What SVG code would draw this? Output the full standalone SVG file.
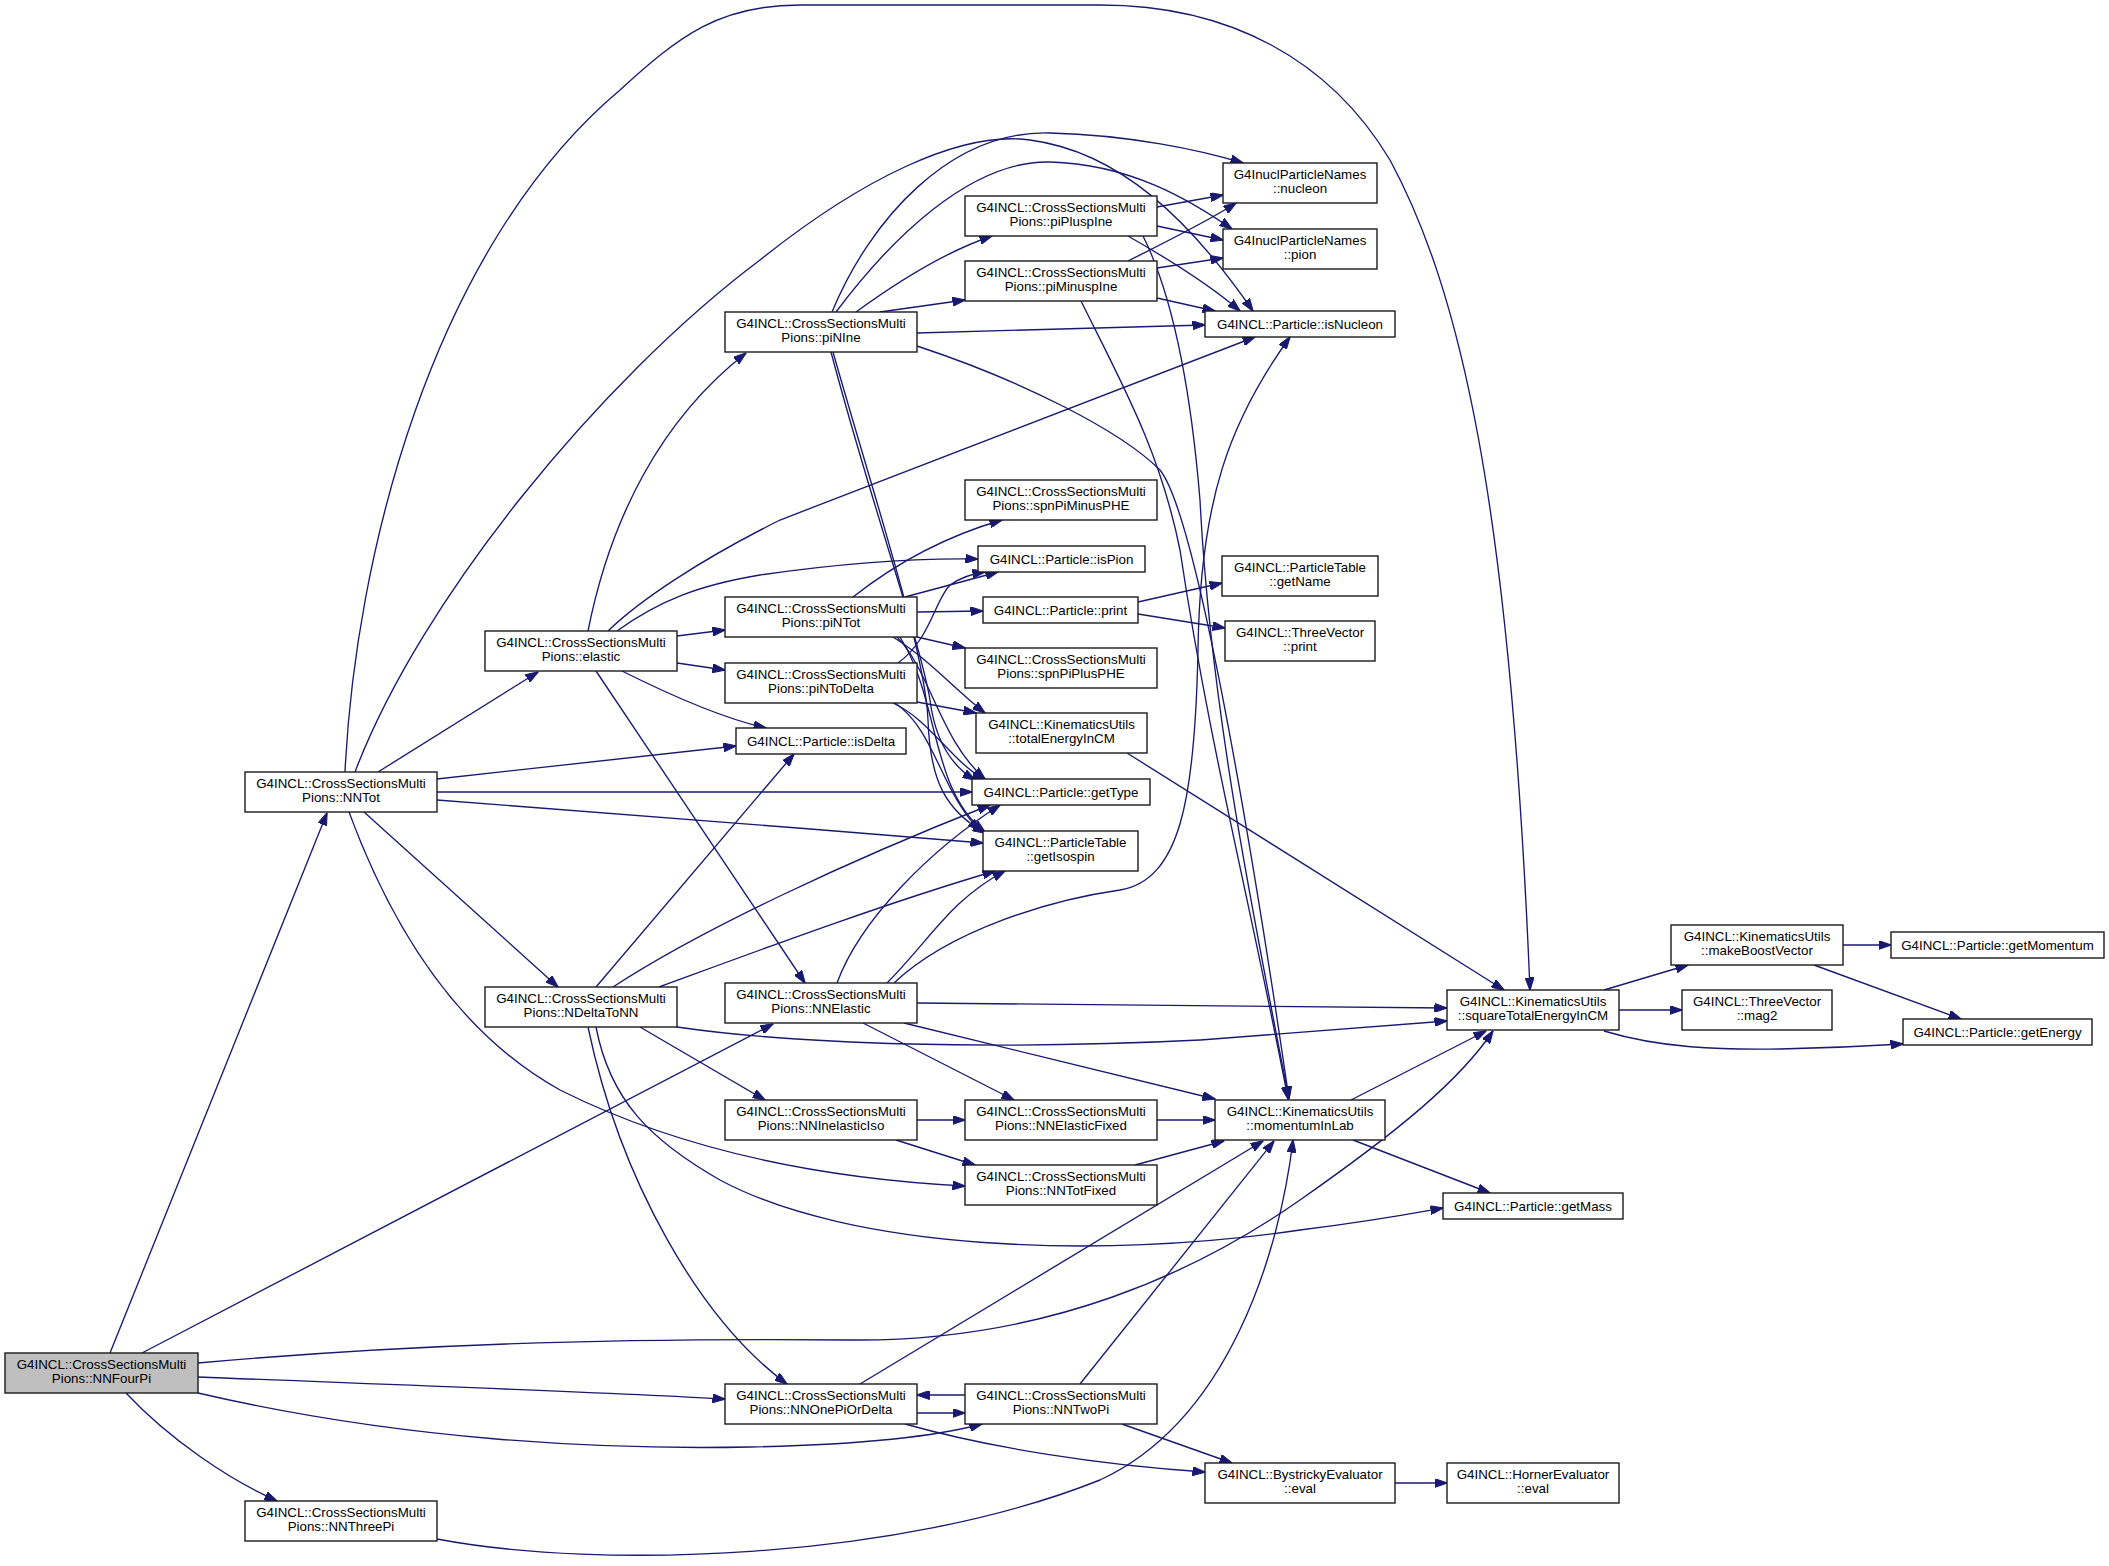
<svg xmlns="http://www.w3.org/2000/svg" width="2109" height="1566" viewBox="0 0 2109 1566">
<style>
.n rect{fill:#ffffff;stroke:#1a1a1a;stroke-width:1.4}
.n.root rect{fill:#bfbfbf}
.n text{font-family:"Liberation Sans",Arial,Helvetica,sans-serif;font-size:13.33px;fill:#000;text-anchor:middle}
#edges path{fill:none;stroke:#191970;stroke-width:1.35;marker-end:url(#ah)}
</style>
<defs>
<marker id="ah" viewBox="0 0 13 9" refX="12.5" refY="4.5" markerWidth="13" markerHeight="9" markerUnits="userSpaceOnUse" orient="auto">
<path d="M0,0 L13,4.5 L0,9 z" fill="#191970" stroke="#191970" stroke-width="1"/>
</marker>
</defs>
<rect width="2109" height="1566" fill="#ffffff"/>
<g id="edges">
<path d="M110,1353 L327,813"/>
<path d="M142,1353 L773,1024"/>
<path d="M198,1363 C400,1345 600,1338 850,1340 C1050,1342 1200,1270 1300,1200 C1400,1130 1460,1080 1493,1031"/>
<path d="M198,1377 C400,1385 600,1392 725,1399"/>
<path d="M198,1393 C400,1440 600,1450 750,1447 C850,1445 930,1438 982,1424"/>
<path d="M126,1393 C170,1440 230,1480 277,1501"/>
<path d="M437,1539 C600,1570 900,1560 1100,1480 C1230,1420 1280,1250 1293,1140"/>
<path d="M345,772 C355,560 430,250 620,90 C680,35 720,5 800,5 L1100,5 C1230,5 1330,60 1390,160 C1460,290 1510,500 1530,990"/>
<path d="M355,772 C420,600 600,380 760,260 C860,180 960,130 1030,140 C1120,152 1190,220 1253,311"/>
<path d="M378,772 L538,672"/>
<path d="M437,779 L736,746"/>
<path d="M437,792 L972,792"/>
<path d="M437,800 C600,812 800,828 983,843"/>
<path d="M364,812 L558,987"/>
<path d="M349,812 C400,950 470,1040 560,1090 C700,1160 850,1180 965,1186"/>
<path d="M588,631 C610,520 660,420 746,353"/>
<path d="M608,631 C640,600 700,560 780,520 L1255,337"/>
<path d="M617,631 C660,600 700,585 760,575 C850,562 920,558 978,559"/>
<path d="M677,636 L725,630"/>
<path d="M677,663 L725,670"/>
<path d="M622,671 C680,700 730,720 766,728"/>
<path d="M596,671 L805,983"/>
<path d="M596,987 L794,754"/>
<path d="M613,987 C700,930 850,860 990,805"/>
<path d="M659,987 C760,950 880,905 995,871"/>
<path d="M677,1027 C800,1045 1000,1050 1200,1040 C1300,1033 1400,1025 1447,1021"/>
<path d="M640,1027 L765,1100"/>
<path d="M588,1027 C620,1180 700,1320 787,1384"/>
<path d="M596,1027 C610,1100 650,1140 720,1180 C850,1250 1100,1260 1300,1230 C1380,1220 1420,1212 1443,1208"/>
<path d="M837,983 C860,920 930,850 1000,805"/>
<path d="M887,983 C930,940 950,900 1005,871"/>
<path d="M894,983 C950,930 1050,900 1120,890 C1180,880 1195,800 1198,650 C1200,500 1230,420 1290,337"/>
<path d="M917,1003 L1447,1008"/>
<path d="M863,1023 L1014,1100"/>
<path d="M904,1023 L1215,1099"/>
<path d="M917,1120 L965,1120"/>
<path d="M896,1140 L975,1165"/>
<path d="M860,1384 L1263,1141"/>
<path d="M917,1413 L965,1413"/>
<path d="M905,1424 C990,1448 1100,1465 1205,1472"/>
<path d="M965,1395 L917,1395"/>
<path d="M1080,1384 L1274,1141"/>
<path d="M1122,1424 L1232,1463"/>
<path d="M1395,1483 L1447,1483"/>
<path d="M1157,1120 L1215,1120"/>
<path d="M1135,1165 L1224,1141"/>
<path d="M1351,1100 L1486,1031"/>
<path d="M1353,1140 L1490,1193"/>
<path d="M1127,753 L1504,990"/>
<path d="M1604,990 L1688,965"/>
<path d="M1619,1010 L1682,1010"/>
<path d="M1604,1031 C1660,1048 1720,1050 1780,1049 C1830,1048 1870,1046 1903,1044"/>
<path d="M1843,945 L1891,945"/>
<path d="M1814,965 L1961,1019"/>
<path d="M1138,602 L1222,583"/>
<path d="M1138,614 L1225,628"/>
<path d="M853,597 C900,560 950,535 1002,520"/>
<path d="M905,597 L998,572"/>
<path d="M917,612 L983,611"/>
<path d="M917,637 L965,648"/>
<path d="M893,637 C930,660 955,690 985,713"/>
<path d="M897,637 C930,670 940,740 985,779"/>
<path d="M900,637 C940,700 930,790 985,832"/>
<path d="M831,352 C870,500 920,640 930,700 C935,740 950,765 975,780"/>
<path d="M833,352 C875,500 925,650 928,720 C930,780 945,810 985,833"/>
<path d="M898,663 C930,640 935,600 950,585 C960,578 970,574 985,572"/>
<path d="M917,702 L976,713"/>
<path d="M893,703 C930,720 950,760 985,780"/>
<path d="M895,703 C935,730 940,790 980,831"/>
<path d="M832,312 C870,220 950,130 1050,133 C1130,135 1200,150 1243,163"/>
<path d="M836,312 C890,240 970,160 1050,162 C1130,164 1190,200 1232,229"/>
<path d="M856,312 C900,280 950,250 992,236"/>
<path d="M880,312 L965,300"/>
<path d="M917,333 L1205,325"/>
<path d="M917,346 C1020,380 1120,430 1160,470 C1200,520 1260,900 1289,1099"/>
<path d="M1143,236 C1170,290 1190,380 1200,500 C1210,700 1250,900 1289,1099"/>
<path d="M1081,301 C1120,380 1160,450 1180,550 C1210,750 1250,900 1288,1099"/>
<path d="M1157,207 L1223,195"/>
<path d="M1157,226 L1223,240"/>
<path d="M1128,236 C1170,260 1210,285 1240,311"/>
<path d="M1128,261 C1170,240 1210,220 1236,203"/>
<path d="M1157,268 L1223,258"/>
<path d="M1157,298 L1215,311"/>
</g>
<g id="node-NNFourPi" class="n root"><rect x="5" y="1353" width="193" height="40"/><text x="101.5" y="1369">G4INCL::CrossSectionsMulti</text><text x="101.5" y="1383">Pions::NNFourPi</text></g>
<g id="node-NNThreePi" class="n"><rect x="245" y="1501" width="192" height="40"/><text x="341" y="1517">G4INCL::CrossSectionsMulti</text><text x="341" y="1531">Pions::NNThreePi</text></g>
<g id="node-NNTot" class="n"><rect x="245" y="772" width="192" height="40"/><text x="341" y="788">G4INCL::CrossSectionsMulti</text><text x="341" y="802">Pions::NNTot</text></g>
<g id="node-elastic" class="n"><rect x="485" y="631" width="192" height="40"/><text x="581" y="647">G4INCL::CrossSectionsMulti</text><text x="581" y="661">Pions::elastic</text></g>
<g id="node-NDeltaToNN" class="n"><rect x="485" y="987" width="192" height="40"/><text x="581" y="1003">G4INCL::CrossSectionsMulti</text><text x="581" y="1017">Pions::NDeltaToNN</text></g>
<g id="node-piNIne" class="n"><rect x="725" y="312" width="192" height="40"/><text x="821" y="328">G4INCL::CrossSectionsMulti</text><text x="821" y="342">Pions::piNIne</text></g>
<g id="node-piNTot" class="n"><rect x="725" y="597" width="192" height="40"/><text x="821" y="613">G4INCL::CrossSectionsMulti</text><text x="821" y="627">Pions::piNTot</text></g>
<g id="node-piNToDelta" class="n"><rect x="725" y="663" width="192" height="40"/><text x="821" y="679">G4INCL::CrossSectionsMulti</text><text x="821" y="693">Pions::piNToDelta</text></g>
<g id="node-isDelta" class="n"><rect x="736" y="728" width="170" height="26"/><text x="821" y="745.5">G4INCL::Particle::isDelta</text></g>
<g id="node-NNElastic" class="n"><rect x="725" y="983" width="192" height="40"/><text x="821" y="999">G4INCL::CrossSectionsMulti</text><text x="821" y="1013">Pions::NNElastic</text></g>
<g id="node-NNInelasticIso" class="n"><rect x="725" y="1100" width="192" height="40"/><text x="821" y="1116">G4INCL::CrossSectionsMulti</text><text x="821" y="1130">Pions::NNInelasticIso</text></g>
<g id="node-NNOnePiOrDelta" class="n"><rect x="725" y="1384" width="192" height="40"/><text x="821" y="1400">G4INCL::CrossSectionsMulti</text><text x="821" y="1414">Pions::NNOnePiOrDelta</text></g>
<g id="node-piPluspIne" class="n"><rect x="965" y="196" width="192" height="40"/><text x="1061" y="212">G4INCL::CrossSectionsMulti</text><text x="1061" y="226">Pions::piPluspIne</text></g>
<g id="node-piMinuspIne" class="n"><rect x="965" y="261" width="192" height="40"/><text x="1061" y="277">G4INCL::CrossSectionsMulti</text><text x="1061" y="291">Pions::piMinuspIne</text></g>
<g id="node-spnPiMinusPHE" class="n"><rect x="965" y="480" width="192" height="40"/><text x="1061" y="496">G4INCL::CrossSectionsMulti</text><text x="1061" y="510">Pions::spnPiMinusPHE</text></g>
<g id="node-isPion" class="n"><rect x="978" y="546" width="167" height="26"/><text x="1061.5" y="563.5">G4INCL::Particle::isPion</text></g>
<g id="node-Particle-print" class="n"><rect x="983" y="597" width="155" height="26"/><text x="1060.5" y="614.5">G4INCL::Particle::print</text></g>
<g id="node-spnPiPlusPHE" class="n"><rect x="965" y="648" width="192" height="40"/><text x="1061" y="664">G4INCL::CrossSectionsMulti</text><text x="1061" y="678">Pions::spnPiPlusPHE</text></g>
<g id="node-totalEnergyInCM" class="n"><rect x="976" y="713" width="171" height="40"/><text x="1061.5" y="729">G4INCL::KinematicsUtils</text><text x="1061.5" y="743">::totalEnergyInCM</text></g>
<g id="node-getType" class="n"><rect x="972" y="779" width="178" height="26"/><text x="1061" y="796.5">G4INCL::Particle::getType</text></g>
<g id="node-getIsospin" class="n"><rect x="983" y="831" width="155" height="40"/><text x="1060.5" y="847">G4INCL::ParticleTable</text><text x="1060.5" y="861">::getIsospin</text></g>
<g id="node-NNElasticFixed" class="n"><rect x="965" y="1100" width="192" height="40"/><text x="1061" y="1116">G4INCL::CrossSectionsMulti</text><text x="1061" y="1130">Pions::NNElasticFixed</text></g>
<g id="node-NNTotFixed" class="n"><rect x="965" y="1165" width="192" height="40"/><text x="1061" y="1181">G4INCL::CrossSectionsMulti</text><text x="1061" y="1195">Pions::NNTotFixed</text></g>
<g id="node-NNTwoPi" class="n"><rect x="965" y="1384" width="192" height="40"/><text x="1061" y="1400">G4INCL::CrossSectionsMulti</text><text x="1061" y="1414">Pions::NNTwoPi</text></g>
<g id="node-nucleon" class="n"><rect x="1223" y="163" width="154" height="40"/><text x="1300" y="179">G4InuclParticleNames</text><text x="1300" y="193">::nucleon</text></g>
<g id="node-pion" class="n"><rect x="1223" y="229" width="154" height="40"/><text x="1300" y="245">G4InuclParticleNames</text><text x="1300" y="259">::pion</text></g>
<g id="node-isNucleon" class="n"><rect x="1205" y="311" width="190" height="26"/><text x="1300" y="328.5">G4INCL::Particle::isNucleon</text></g>
<g id="node-getName" class="n"><rect x="1222" y="556" width="156" height="40"/><text x="1300" y="572">G4INCL::ParticleTable</text><text x="1300" y="586">::getName</text></g>
<g id="node-ThreeVector-print" class="n"><rect x="1225" y="621" width="150" height="40"/><text x="1300" y="637">G4INCL::ThreeVector</text><text x="1300" y="651">::print</text></g>
<g id="node-momentumInLab" class="n"><rect x="1215" y="1100" width="170" height="40"/><text x="1300" y="1116">G4INCL::KinematicsUtils</text><text x="1300" y="1130">::momentumInLab</text></g>
<g id="node-BystrickyEval" class="n"><rect x="1205" y="1463" width="190" height="40"/><text x="1300" y="1479">G4INCL::BystrickyEvaluator</text><text x="1300" y="1493">::eval</text></g>
<g id="node-squareTotalEnergyInCM" class="n"><rect x="1447" y="990" width="172" height="40"/><text x="1533" y="1006">G4INCL::KinematicsUtils</text><text x="1533" y="1020">::squareTotalEnergyInCM</text></g>
<g id="node-getMass" class="n"><rect x="1443" y="1193" width="180" height="26"/><text x="1533" y="1210.5">G4INCL::Particle::getMass</text></g>
<g id="node-HornerEval" class="n"><rect x="1447" y="1463" width="172" height="40"/><text x="1533" y="1479">G4INCL::HornerEvaluator</text><text x="1533" y="1493">::eval</text></g>
<g id="node-makeBoostVector" class="n"><rect x="1671" y="925" width="172" height="40"/><text x="1757" y="941">G4INCL::KinematicsUtils</text><text x="1757" y="955">::makeBoostVector</text></g>
<g id="node-mag2" class="n"><rect x="1682" y="990" width="150" height="40"/><text x="1757" y="1006">G4INCL::ThreeVector</text><text x="1757" y="1020">::mag2</text></g>
<g id="node-getMomentum" class="n"><rect x="1891" y="932" width="213" height="26"/><text x="1997.5" y="949.5">G4INCL::Particle::getMomentum</text></g>
<g id="node-getEnergy" class="n"><rect x="1903" y="1019" width="189" height="26"/><text x="1997.5" y="1036.5">G4INCL::Particle::getEnergy</text></g>
</svg>
